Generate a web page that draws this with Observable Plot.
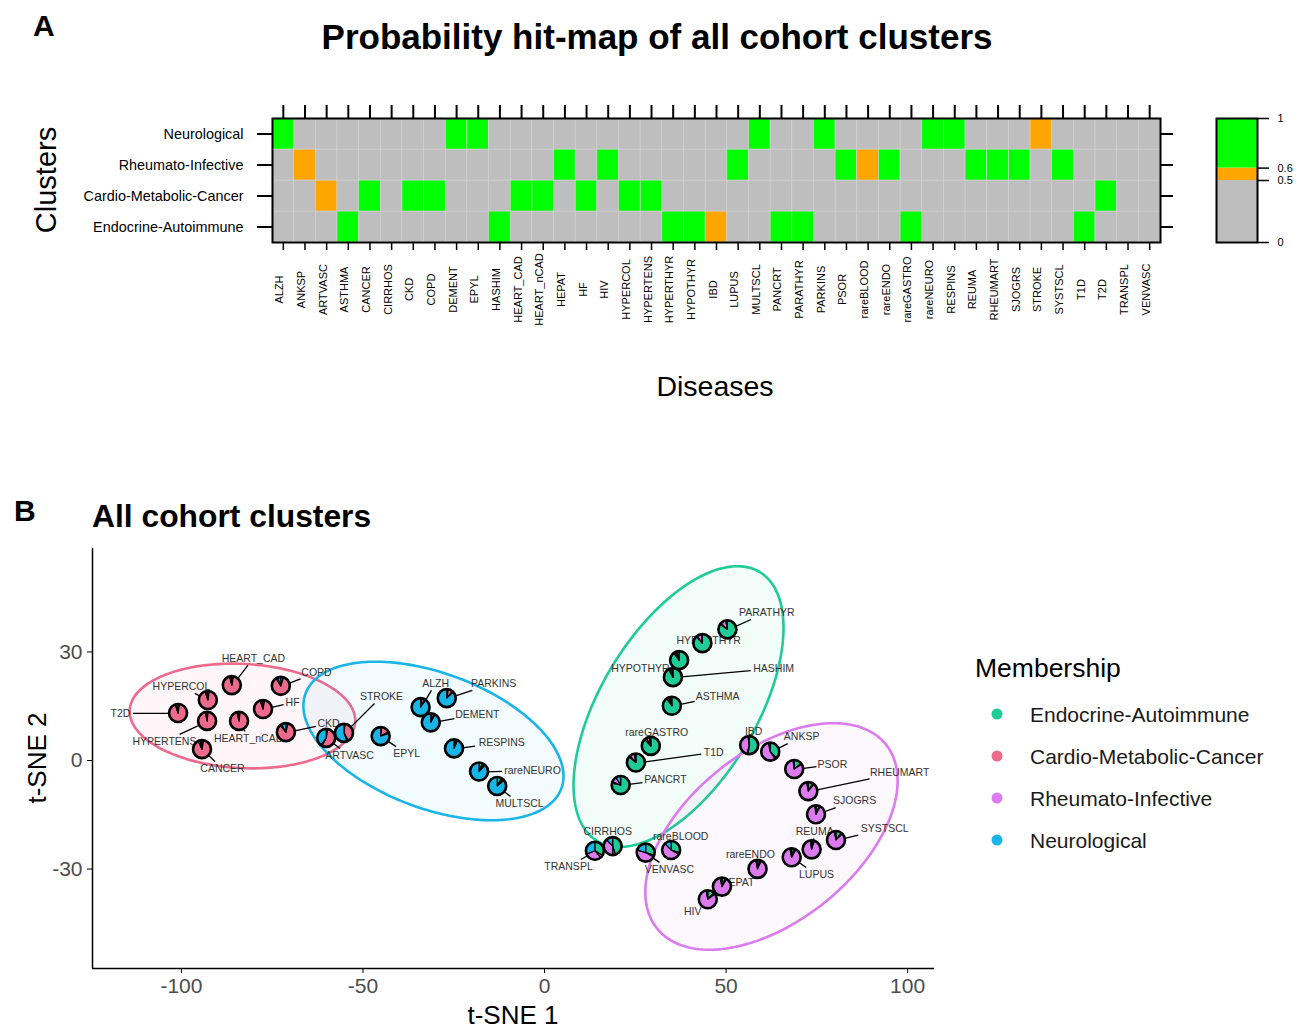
<!DOCTYPE html>
<html><head><meta charset="utf-8">
<script src="https://cdn.jsdelivr.net/npm/d3@7"></script>
<script src="https://cdn.jsdelivr.net/npm/@observablehq/plot@0.6"></script>
<style>
body{margin:0;background:#fff;font-family:"Liberation Sans",Arial,sans-serif;}
#fig{position:relative;width:1316px;height:1029px;overflow:hidden;background:#fff}
#fig svg{position:absolute;left:0;top:0;overflow:visible}
</style></head><body><div id="fig"></div>
<script>
// ---------------- DATA ----------------
const diseases = ["ALZH","ANKSP","ARTVASC","ASTHMA","CANCER","CIRRHOS","CKD","COPD","DEMENT","EPYL","HASHIM","HEART_CAD","HEART_nCAD","HEPAT","HF","HIV","HYPERCOL","HYPERTENS","HYPERTHYR","HYPOTHYR","IBD","LUPUS","MULTSCL","PANCRT","PARATHYR","PARKINS","PSOR","rareBLOOD","rareENDO","rareGASTRO","rareNEURO","RESPINS","REUMA","RHEUMART","SJOGRS","STROKE","SYSTSCL","T1D","T2D","TRANSPL","VENVASC"];
const clusters = ["Endocrine-Autoimmune","Cardio-Metabolic-Cancer","Rheumato-Infective","Neurological"];
const clusterRows = ["Neurological","Rheumato-Infective","Cardio-Metabolic-Cancer","Endocrine-Autoimmune"];
const clusterColors = ["#1FCB96","#EE6A8D","#DB7BEF","#1AB5E8"];

// membership probabilities (per disease, same order as diseases)
const endoP   = [0.03,0.38,0.03,0.90,0.03,0.45,0.04,0.05,0.02,0.02,0.92,0.03,0.02,0.06,0.03,0.12,0.03,0.02,0.88,0.90,0.52,0.05,0.08,0.78,0.85,0.03,0.14,0.30,0.04,0.88,0.06,0.02,0.03,0.08,0.06,0.02,0.10,0.86,0.03,0.34,0.30];
const cardioP = [0.05,0.03,0.55,0.04,0.90,0.05,0.85,0.86,0.04,0.15,0.02,0.93,0.94,0.03,0.92,0.03,0.92,0.95,0.02,0.03,0.02,0.03,0.03,0.03,0.02,0.08,0.02,0.03,0.03,0.04,0.03,0.03,0.02,0.03,0.02,0.40,0.03,0.03,0.92,0.05,0.03];
const rheumP  = [0.02,0.56,0.02,0.03,0.04,0.38,0.03,0.03,0.02,0.03,0.04,0.02,0.02,0.88,0.02,0.82,0.02,0.02,0.08,0.04,0.44,0.89,0.03,0.10,0.10,0.02,0.82,0.55,0.90,0.05,0.03,0.02,0.93,0.86,0.90,0.03,0.84,0.08,0.02,0.30,0.47];
const neuroP  = [0.90,0.03,0.40,0.03,0.03,0.12,0.08,0.06,0.92,0.80,0.02,0.02,0.02,0.03,0.03,0.03,0.03,0.01,0.02,0.03,0.02,0.03,0.86,0.09,0.03,0.87,0.02,0.12,0.03,0.03,0.88,0.93,0.02,0.03,0.02,0.55,0.03,0.03,0.03,0.31,0.20];

// t-SNE coordinates
const tsneX = [-34.0,62.3,-60.0,35.2,-94.2,18.9,-71.1,-72.5,-31.2,-45.0,35.5,-86.0,-84.0,49.0,-77.4,45.1,-92.6,-92.8,43.6,37.2,56.5,68.2,-12.9,21.1,50.5,-26.8,68.9,35.0,58.8,29.4,-17.9,-24.8,73.7,72.8,74.9,-55.1,80.4,25.3,-100.8,14.0,28.0];
const tsneY = [14.6,2.3,6.1,15.0,3.0,-23.8,7.7,20.5,10.4,6.6,22.9,20.7,10.8,-35.0,14.1,-38.5,16.6,10.8,32.3,27.6,4.1,-26.9,-7.2,-6.9,36.1,17.1,-2.5,-24.9,-30.1,3.9,-3.2,3.2,-24.7,-8.6,-15.0,7.5,-22.1,-0.7,13.0,-25.1,-25.6];
// repelled label positions
const labelX = [-30.0,70.8,-53.7,47.7,-88.7,17.4,-59.5,-62.8,-18.5,-38.0,63.1,-80.2,-81.5,53.2,-69.4,40.8,-100.0,-104.7,45.2,26.4,57.6,74.9,-6.9,33.3,61.2,-14.0,79.3,37.5,56.7,30.9,-3.3,-11.8,74.4,97.8,85.4,-44.9,93.7,46.6,-116.8,6.6,34.4];
const labelY = [21.3,6.6,1.4,17.7,-2.2,-19.6,10.2,24.3,12.7,1.9,25.4,28.2,6.1,-33.7,16.0,-41.7,20.5,5.3,33.2,25.4,8.0,-31.5,-11.9,-5.3,40.9,21.3,-1.1,-21.0,-26.0,7.7,-2.8,5.0,-19.6,-3.3,-11.1,17.7,-18.8,2.2,13.0,-29.3,-30.1];

// confidence ellipses (one per cluster, same order as clusters)
const ellCx = [36.9,-83.2,62.5,-30.6];
const ellCy = [14.9,12.3,-21.0,5.4];
const ellA  = [43.4,31.1,40.5,37.6];
const ellB  = [21.4,14.4,23.4,18.7];
const ellAngle = [59,-3,39,-20.5];

const thresholds = [0.5, 0.6];
const legendBreaks = [0, 0.5, 0.6, 1];
const heatColors = ["#BEBEBE","#FFA500","#00FF00"];
const xTicks = [-100,-50,0,50,100];
const yTicks = [-30,0,30];
const xDomain = [-124.5, 107.4];
const yDomain = [-57.5, 58.6];

// ---------------- BUILD ----------------
const FONT = "'Liberation Sans', Arial, sans-serif";
const memb = [endoP, cardioP, rheumP, neuroP];
const fig = document.getElementById("fig");

const heatData = diseases.flatMap((d, i) => clusters.map((c, k) => ({disease: d, cluster: c, p: memb[k][i]})));

const heat = Plot.plot({
  width: 1316, height: 420,
  marginLeft: 272, marginRight: 156, marginTop: 118, marginBottom: 178,
  style: {fontFamily: FONT, background: "transparent", color: "black"},
  x: {domain: diseases, padding: 0, round: false, axis: null},
  y: {domain: clusterRows, padding: 0, round: false, axis: null},
  color: {type: "threshold", domain: thresholds, range: heatColors},
  marks: [
    Plot.cell(heatData, {x: "disease", y: "cluster", fill: "p", stroke: "#d3d3d3", strokeWidth: 0.6}),
    Plot.frame({stroke: "black", strokeWidth: 2}),
    Plot.axisX({anchor: "bottom", tickSize: 8, tickFormat: () => "", label: null, strokeWidth: 1.5}),
    Plot.text(diseases, {x: d => d, frameAnchor: "bottom", dy: 47, rotate: -90, textAnchor: "middle", fontSize: 11, fill: "black"}),
    Plot.axisX({anchor: "top", tickSize: 14, tickFormat: () => "", label: null, strokeWidth: 2}),
    Plot.axisY({anchor: "left", tickSize: 15, tickPadding: 14, fontSize: 14.4, label: null, strokeWidth: 2}),
    Plot.axisY({anchor: "right", tickSize: 12, tickFormat: () => "", label: null, strokeWidth: 2})
  ]
});
fig.appendChild(heat);

const bins = legendBreaks.slice(0, -1).map((lo, i) => ({lo, hi: legendBreaks[i + 1]}));
const bar = Plot.plot({
  width: 1316, height: 420,
  marginLeft: 1216, marginRight: 59, marginTop: 118, marginBottom: 178,
  style: {fontFamily: FONT, background: "transparent", color: "black"},
  x: {domain: [0, 1], axis: null},
  y: {domain: [0, 1], axis: null},
  color: {type: "threshold", domain: thresholds, range: heatColors},
  marks: [
    Plot.rect(bins, {x1: 0, x2: 1, y1: "lo", y2: "hi", fill: d => (d.lo + d.hi) / 2}),
    Plot.frame({stroke: "black", strokeWidth: 2}),
    Plot.axisY({anchor: "right", ticks: legendBreaks, tickSize: 11, tickPadding: 9, fontSize: 11, tickFormat: d => String(d), label: null, strokeWidth: 1.5})
  ]
});
fig.appendChild(bar);

// scatter panel
const pts = diseases.map((name, i) => ({name, x: tsneX[i], y: tsneY[i], lx: labelX[i], ly: labelY[i], p: memb.map(m => m[i])}));
const mL = 92, mR = 382, mT = 548, mB = 61, W = 1316, H = 1029;
const kx = (W - mL - mR) / (xDomain[1] - xDomain[0]);
const ky = (H - mT - mB) / (yDomain[1] - yDomain[0]);
function textW(s) { let w = 0; for (const ch of s) w += /[a-z]/.test(ch) ? 5.6 : 7.0; return w; }
const segs = [];
for (const d of pts) {
  const hw = (textW(d.name) / 2 + 2) / kx, hh = 7 / ky;
  const dx = d.x - d.lx, dy = d.y - d.ly;
  const t = Math.min(Math.abs(dx) > 1e-9 ? hw / Math.abs(dx) : Infinity, Math.abs(dy) > 1e-9 ? hh / Math.abs(dy) : Infinity);
  if (t < 1) segs.push({x1: d.x, y1: d.y, x2: d.lx + t * dx, y2: d.ly + t * dy});
}
const ellMarks = clusters.map((c, k) => {
  const th = ellAngle[k] * Math.PI / 180;
  const outline = d3.range(0, 361, 2).map(deg => {
    const t = deg * Math.PI / 180;
    return {x: ellCx[k] + ellA[k] * Math.cos(th) * Math.cos(t) - ellB[k] * Math.sin(th) * Math.sin(t),
            y: ellCy[k] + ellA[k] * Math.sin(th) * Math.cos(t) + ellB[k] * Math.cos(th) * Math.sin(t)};
  });
  return Plot.line(outline, {x: "x", y: "y", stroke: clusterColors[k], strokeWidth: 2.6, fill: clusterColors[k], fillOpacity: 0.06});
});
const PIE_R = 9;
const pieMark = Plot.dot(pts, {x: "x", y: "y", r: PIE_R, render(index, scales) {
  const g = d3.create("svg:g");
  const arc = d3.arc().innerRadius(0).outerRadius(PIE_R);
  const pie = d3.pie().sort(null).value(v => v);
  for (const i of index) {
    const d = pts[i];
    const gi = g.append("g").attr("transform", `translate(${scales.x(d.x)},${scales.y(d.y)})`);
    pie(d.p).forEach((s, k) => {
      gi.append("path").attr("d", arc(s)).attr("fill", clusterColors[k]).attr("stroke", "black").attr("stroke-width", 1.2).attr("stroke-linejoin", "round");
    });
    gi.append("circle").attr("r", PIE_R).attr("fill", "none").attr("stroke", "black").attr("stroke-width", 2.6);
  }
  return g.node();
}});

const sc = Plot.plot({
  width: W, height: H, marginLeft: mL, marginRight: mR, marginTop: mT, marginBottom: mB,
  style: {fontFamily: FONT, background: "transparent", color: "black"},
  x: {domain: xDomain, axis: null},
  y: {domain: yDomain, axis: null},
  marks: [
    ...ellMarks,
    Plot.link(segs, {x1: "x1", y1: "y1", x2: "x2", y2: "y2", stroke: "black", strokeWidth: 1.3}),
    Plot.text(pts, {x: "lx", y: "ly", text: "name", fontSize: 10.5, fill: "#333"}),
    pieMark,
    Plot.ruleX([xDomain[0]], {stroke: "black", strokeWidth: 1.5}),
    Plot.ruleY([yDomain[0]], {stroke: "black", strokeWidth: 1.5}),
    Plot.axisX({ticks: xTicks, tickSize: 5, tickPadding: 5, fontSize: 21, fill: "#4d4d4d", stroke: "black", label: null, tickFormat: d => String(d)}),
    Plot.axisY({ticks: yTicks, tickSize: 5, tickPadding: 5, fontSize: 21, fill: "#4d4d4d", stroke: "black", label: null, tickFormat: d => String(d)})
  ]
});
fig.appendChild(sc);

// titles, axis titles, legend
const ov = d3.select(fig).append("svg").attr("width", W).attr("height", H).style("font-family", FONT);
const T = (x, y, s, size, opts = {}) => {
  const t = ov.append("text").attr("x", x).attr("y", y).attr("font-size", size).text(s).attr("fill", opts.fill || "black");
  if (opts.bold) t.attr("font-weight", "bold");
  if (opts.anchor) t.attr("text-anchor", opts.anchor);
  if (opts.rot) t.attr("transform", `rotate(-90 ${x} ${y})`);
  return t;
};
T(33, 36, "A", 30, {bold: true});
T(657, 49, "Probability hit-map of all cohort clusters", 35, {bold: true, anchor: "middle"});
T(56, 180, "Clusters", 29, {anchor: "middle", rot: true});
T(715, 396, "Diseases", 28.5, {anchor: "middle"});
T(14, 521, "B", 30, {bold: true});
T(92, 527, "All cohort clusters", 31.8, {bold: true});
T(513, 1024, "t-SNE 1", 26, {anchor: "middle"});
T(46, 758, "t-SNE 2", 26, {anchor: "middle", rot: true});
T(975, 677, "Membership", 26.5);
clusters.forEach((c, k) => {
  const y = 714 + k * 42;
  ov.append("circle").attr("cx", 997).attr("cy", y).attr("r", 5.5).attr("fill", clusterColors[k]);
  T(1030, y + 7.5, c, 21, {fill: "#1a1a1a"});
});
</script></body></html>
